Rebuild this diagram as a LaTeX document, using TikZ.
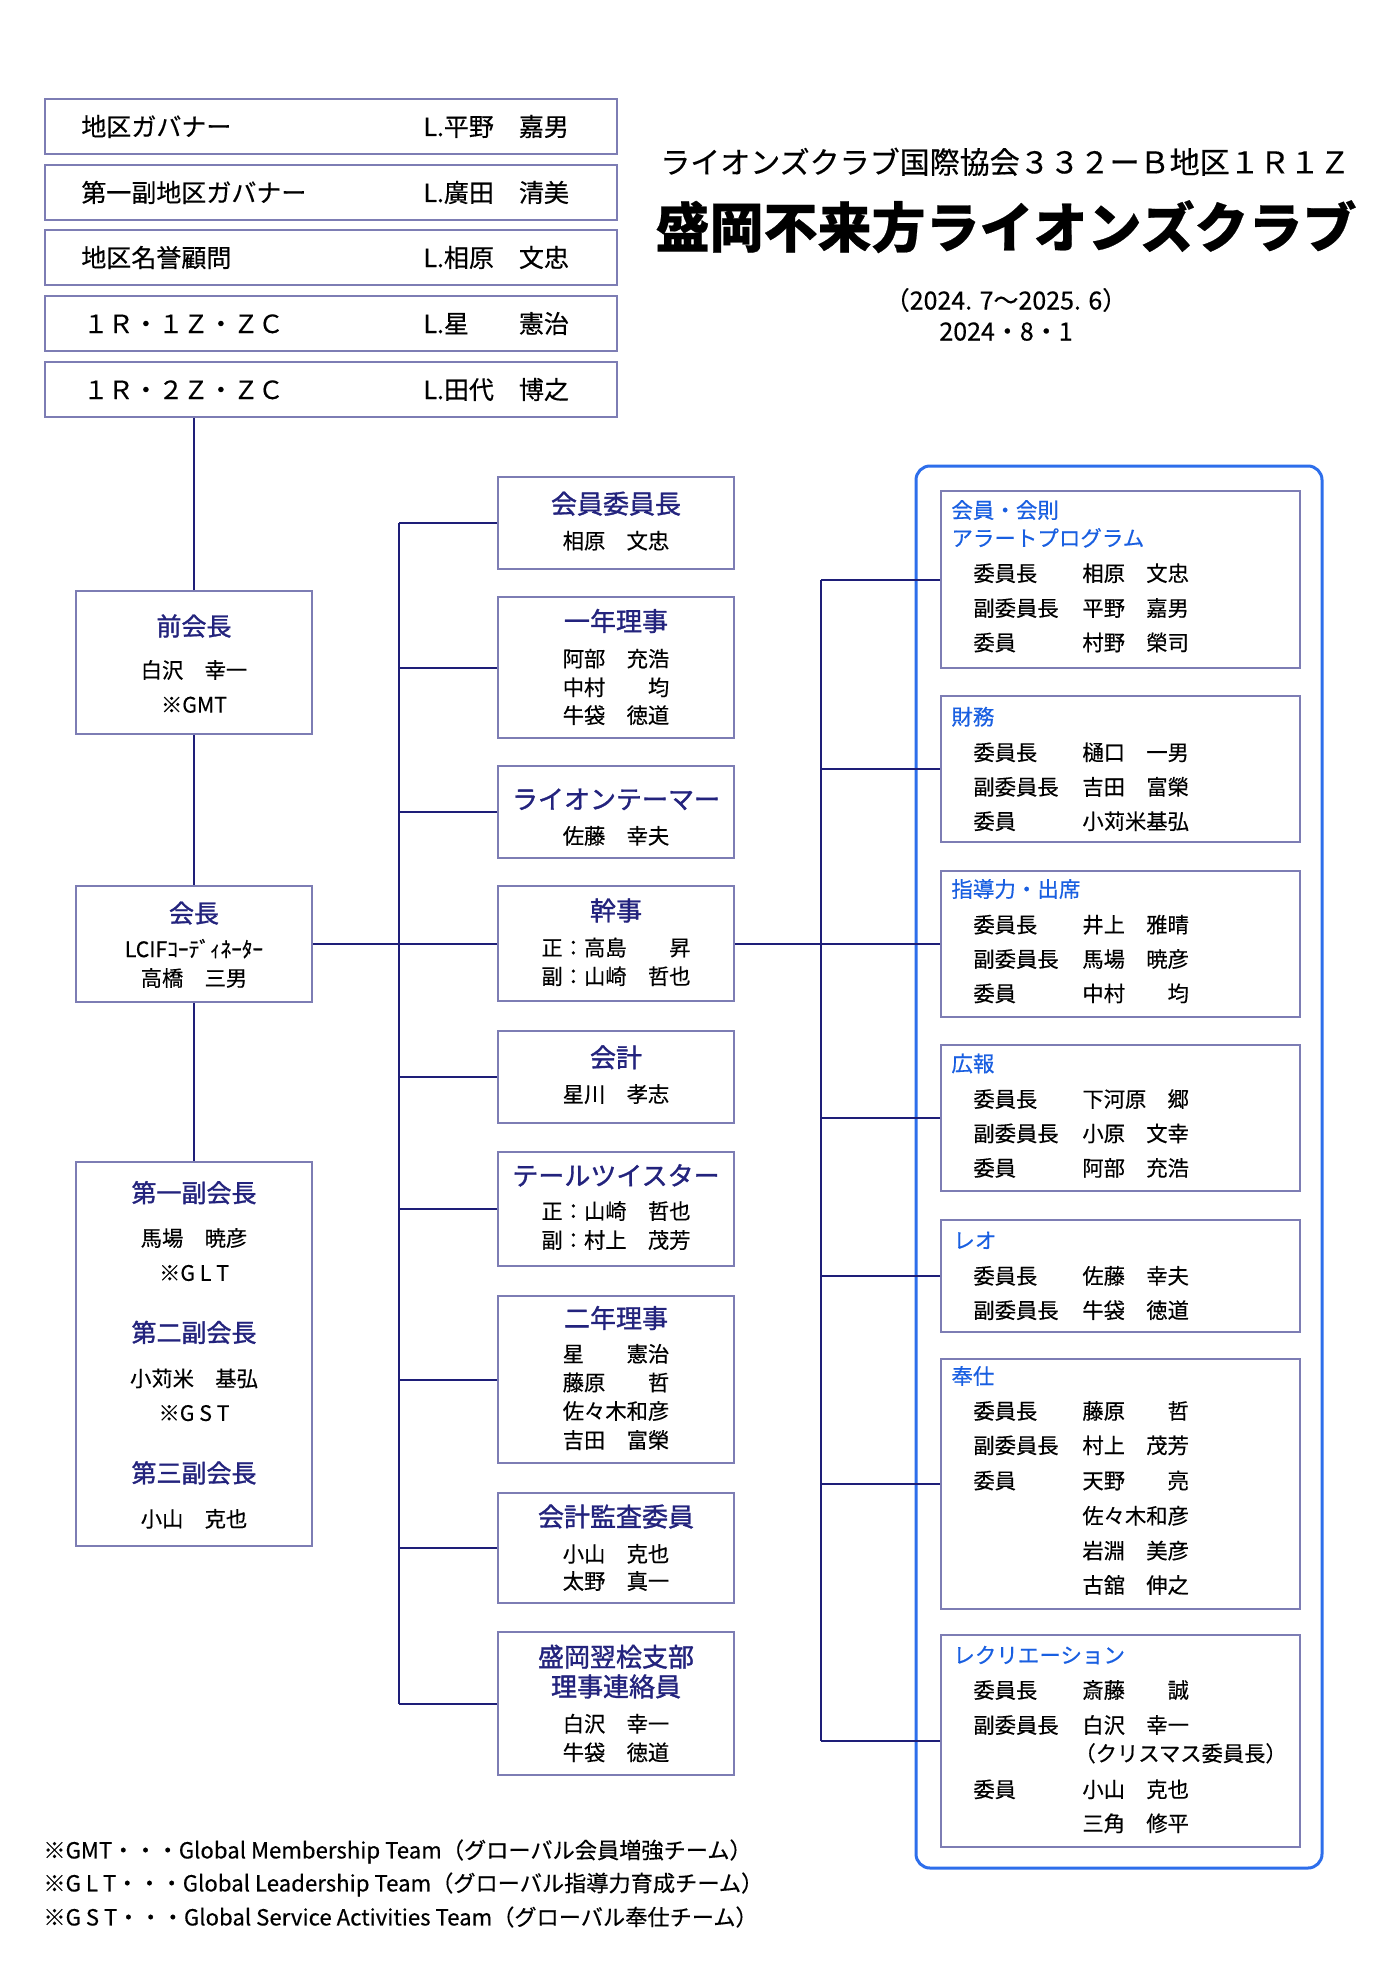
\documentclass[tikz,border=0pt]{standalone}
\usepackage{fontspec}
\setmainfont{Noto Sans CJK JP}[FakeBold=0.4]
\newfontfamily\hdfont{Noto Sans CJK JP}[FakeBold=1.3]
\definecolor{boxline}{RGB}{125,125,180}
\definecolor{conn}{RGB}{30,30,120}
\definecolor{navytxt}{RGB}{35,35,125}
\definecolor{bluetxt}{RGB}{25,95,225}
\definecolor{outerblue}{RGB}{45,110,235}
\begin{document}
\begin{tikzpicture}[x=0.5pt,y=-0.5pt,
  tx/.style={inner sep=0pt, font=\fontsize{#1pt}{#1pt}\selectfont, text height={0.88*#1pt}, text depth={0.12*#1pt}},
  ebox/.style={draw=boxline, line width=1pt, inner sep=0pt, fill=white},
  connline/.style={draw=conn, line width=1pt},
  lhd/.style={tx=12.5, text=navytxt, execute at begin node=\hdfont},
  mhd/.style={tx=13, text=navytxt, execute at begin node=\hdfont},
  nm/.style={tx=10.65},
  rhd/.style={tx=10.75, text=bluetxt, anchor=west},
  rtx/.style={tx=10.65, anchor=west},
  toptx/.style={tx=12.5, anchor=west}]
\useasboundingbox (0,0) rectangle (1400,1969);
\fill[white] (0,0) rectangle (1400,1969);

% outer rounded frame
\node[draw=outerblue, line width=1.5pt, rounded corners=7pt, inner sep=0pt,
  minimum width=203pt, minimum height=701pt] (outer) at (1119,1167) {};

% top boxes
\node[ebox, minimum width=286pt, minimum height=27.5pt] (g1) at (331,126.5) {};
\node[ebox, minimum width=286pt, minimum height=27.5pt] (g2) at (331,192.5) {};
\node[ebox, minimum width=286pt, minimum height=27.5pt] (g3) at (331,257.5) {};
\node[ebox, minimum width=286pt, minimum height=27.5pt] (g4) at (331,323.5) {};
\node[ebox, minimum width=286pt, minimum height=27.5pt] (g5) at (331,389.5) {};
\node[toptx] (g1l) at (81,126.5) {地区ガバナー};
\node[toptx] (g1r) at (423,126.5) {L.平野　嘉男};
\node[toptx] (g2l) at (81,192.5) {第一副地区ガバナー};
\node[toptx] (g2r) at (423,192.5) {L.廣田　清美};
\node[toptx] (g3l) at (81,257.5) {地区名誉顧問};
\node[toptx] (g3r) at (423,257.5) {L.相原　文忠};
\node[toptx] (g4l) at (83,323.5) {１Ｒ・１Ｚ・ＺＣ};
\node[toptx] (g4r) at (423,323.5) {L.星　　憲治};
\node[toptx] (g5l) at (83,389.5) {１Ｒ・２Ｚ・ＺＣ};
\node[toptx] (g5r) at (423,389.5) {L.田代　博之};

% title
\node[tx=15] (t1) at (1005,162) {ライオンズクラブ国際協会３３２ーＢ地区１Ｒ１Ｚ};
\node[tx=27, execute at begin node=\bfseries] (t2) at (1006,227) {盛岡不来方ライオンズクラブ};
\node[tx=12.5] (t3) at (1006,300) {（2024. 7～2025. 6）};
\node[tx=12.5] (t4) at (1006,331) {2024・8・1};

% left column
\node[ebox, minimum width=118pt, minimum height=71.5pt] (pp) at (194,662.5) {};
\node[ebox, minimum width=118pt, minimum height=58pt] (pr) at (194,944) {};
\node[ebox, minimum width=118pt, minimum height=192pt] (vp) at (194,1354) {};
\node[lhd] (pp1) at (194,626) {前会長};
\node[nm] (pp2) at (194,670) {白沢　幸一};
\node[nm] (pp3) at (194,704.5) {※GMT};
\node[lhd] (pr1) at (194,913) {会長};
\node[nm] (pr2) at (194,949) {LCIFｺｰﾃﾞｨﾈｰﾀｰ};
\node[nm] (pr3) at (194,978) {高橋　三男};
\node[lhd] (vp1) at (194,1192.7) {第一副会長};
\node[nm] (vp2) at (194,1238) {馬場　暁彦};
\node[nm] (vp3) at (194,1272.7) {※G L T};
\node[lhd] (vp4) at (194,1332.4) {第二副会長};
\node[nm] (vp5) at (194,1378.4) {小苅米　基弘};
\node[nm] (vp6) at (194,1412.8) {※G S T};
\node[lhd] (vp7) at (194,1472.9) {第三副会長};
\node[nm] (vp8) at (194,1518.8) {小山　克也};

% middle column
\node[ebox, minimum width=118pt, minimum height=46pt] (m1) at (616,523) {};
\node[ebox, minimum width=118pt, minimum height=70.5pt] (m2) at (616,667.5) {};
\node[ebox, minimum width=118pt, minimum height=46pt] (m3) at (616,812) {};
\node[ebox, minimum width=118pt, minimum height=57.5pt] (m4) at (616,943.5) {};
\node[ebox, minimum width=118pt, minimum height=46pt] (m5) at (616,1077) {};
\node[ebox, minimum width=118pt, minimum height=57pt] (m6) at (616,1209) {};
\node[ebox, minimum width=118pt, minimum height=83.5pt] (m7) at (616,1379.5) {};
\node[ebox, minimum width=118pt, minimum height=55pt] (m8) at (616,1548) {};
\node[ebox, minimum width=118pt, minimum height=71.5pt] (m9) at (616,1703.5) {};

\node[mhd] (m1a) at (616,503.6) {会員委員長};
\node[nm] (m1b) at (616,540.7) {相原　文忠};
\node[mhd] (m2a) at (616,621) {一年理事};
\node[nm] (m2b) at (616,658.6) {阿部　充浩};
\node[nm] (m2c) at (616,687.3) {中村　　均};
\node[nm] (m2d) at (616,715.2) {牛袋　徳道};
\node[mhd] (m3a) at (616,799) {ライオンテーマー};
\node[nm] (m3b) at (616,835.8) {佐藤　幸夫};
\node[mhd] (m4a) at (616,910.4) {幹事};
\node[nm] (m4b) at (616,947.5) {正：高島　　昇};
\node[nm] (m4c) at (616,976.2) {副：山崎　哲也};
\node[mhd] (m5a) at (616,1057.3) {会計};
\node[nm] (m5b) at (616,1094) {星川　孝志};
\node[mhd] (m6a) at (616,1175.4) {テールツイスター};
\node[nm] (m6b) at (616,1211) {正：山崎　哲也};
\node[nm] (m6c) at (616,1240) {副：村上　茂芳};
\node[mhd] (m7a) at (616,1318) {二年理事};
\node[nm] (m7b) at (616,1353.8) {星　　憲治};
\node[nm] (m7c) at (616,1382.5) {藤原　　哲};
\node[nm] (m7d) at (616,1411) {佐々木和彦};
\node[nm] (m7e) at (616,1440) {吉田　富榮};
\node[mhd] (m8a) at (616,1516.5) {会計監査委員};
\node[nm] (m8b) at (616,1553.8) {小山　克也};
\node[nm] (m8c) at (616,1581) {太野　真一};
\node[mhd] (m9a) at (616,1656.7) {盛岡翌桧支部};
\node[mhd] (m9b) at (616,1686.4) {理事連絡員};
\node[nm] (m9c) at (616,1723.7) {白沢　幸一};
\node[nm] (m9d) at (616,1752.4) {牛袋　徳道};

% right column boxes
\node[ebox, minimum width=179.5pt, minimum height=88.5pt] (r1) at (1120.5,579.5) {};
\node[ebox, minimum width=179.5pt, minimum height=73pt] (r2) at (1120.5,769) {};
\node[ebox, minimum width=179.5pt, minimum height=73pt] (r3) at (1120.5,943.5) {};
\node[ebox, minimum width=179.5pt, minimum height=73pt] (r4) at (1120.5,1118) {};
\node[ebox, minimum width=179.5pt, minimum height=56pt] (r5) at (1120.5,1276) {};
\node[ebox, minimum width=179.5pt, minimum height=125.25pt] (r6) at (1120.5,1483.75) {};
\node[ebox, minimum width=179.5pt, minimum height=106pt] (r7) at (1120.5,1741) {};

\node[rhd] (r1h) at (951,510) {会員・会則};
\node[rhd] (r1i) at (951,538) {アラートプログラム};
\node[rtx] (r1a) at (973,573.2) {委員長};   \node[rtx] (r1b) at (1082,573.2) {相原　文忠};
\node[rtx] (r1c) at (973,608) {副委員長};   \node[rtx] (r1d) at (1082,608) {平野　嘉男};
\node[rtx] (r1e) at (973,642.5) {委員};     \node[rtx] (r1f) at (1082,642.5) {村野　榮司};

\node[rhd] (r2h) at (951,716.7) {財務};
\node[rtx] (r2a) at (973,752.3) {委員長};   \node[rtx] (r2b) at (1082,752.3) {樋口　一男};
\node[rtx] (r2c) at (973,786.8) {副委員長}; \node[rtx] (r2d) at (1082,786.8) {吉田　富榮};
\node[rtx] (r2e) at (973,821.2) {委員};     \node[rtx] (r2f) at (1082,821.2) {小苅米基弘};

\node[rhd] (r3h) at (951,889) {指導力・出席};
\node[rtx] (r3a) at (973,924.6) {委員長};   \node[rtx] (r3b) at (1082,924.6) {井上　雅晴};
\node[rtx] (r3c) at (973,959) {副委員長};   \node[rtx] (r3d) at (1082,959) {馬場　暁彦};
\node[rtx] (r3e) at (973,993.4) {委員};     \node[rtx] (r3f) at (1082,993.4) {中村　　均};

\node[rhd] (r4h) at (951,1063.4) {広報};
\node[rtx] (r4a) at (973,1099) {委員長};    \node[rtx] (r4b) at (1082,1099) {下河原　郷};
\node[rtx] (r4c) at (973,1133.4) {副委員長};\node[rtx] (r4d) at (1082,1133.4) {小原　文幸};
\node[rtx] (r4e) at (973,1167.9) {委員};    \node[rtx] (r4f) at (1082,1167.9) {阿部　充浩};

\node[rhd] (r5h) at (953,1240.2) {レオ};
\node[rtx] (r5a) at (973,1275.8) {委員長};  \node[rtx] (r5b) at (1082,1275.8) {佐藤　幸夫};
\node[rtx] (r5c) at (973,1310.2) {副委員長};\node[rtx] (r5d) at (1082,1310.2) {牛袋　徳道};

\node[rhd] (r6h) at (951,1376) {奉仕};
\node[rtx] (r6a) at (973,1410.9) {委員長};  \node[rtx] (r6b) at (1082,1410.9) {藤原　　哲};
\node[rtx] (r6c) at (973,1445.3) {副委員長};\node[rtx] (r6d) at (1082,1445.3) {村上　茂芳};
\node[rtx] (r6e) at (973,1480.5) {委員};    \node[rtx] (r6f) at (1082,1480.5) {天野　　亮};
\node[rtx] (r6g) at (1082,1515.7) {佐々木和彦};
\node[rtx] (r6i) at (1082,1550.6) {岩淵　美彦};
\node[rtx] (r6j) at (1082,1585) {古舘　伸之};

\node[rhd] (r7h) at (953,1655) {レクリエーション};
\node[rtx] (r7a) at (973,1690) {委員長};    \node[rtx] (r7b) at (1082,1690) {斎藤　　誠};
\node[rtx] (r7c) at (973,1725) {副委員長};  \node[rtx] (r7d) at (1082,1725) {白沢　幸一};
\node[rtx] (r7e) at (1074,1753.3) {（クリスマス委員長）};
\node[rtx] (r7f) at (973,1789.3) {委員};    \node[rtx] (r7g) at (1082,1789.3) {小山　克也};
\node[rtx] (r7i) at (1082,1823.3) {三角　修平};

% connectors
\coordinate (lt) at (399,0);
\coordinate (rt) at (821,0);
\draw[connline] (pp.north) -- (pp.north |- g5.south);
\draw[connline] (pp.south) -- (pr.north);
\draw[connline] (pr.south) -- (vp.north);
\draw[connline] (pr.east) -- (pr.east -| lt);
\draw[connline] (m1.west -| lt) -- (m9.west -| lt);
\foreach \m in {m1,m2,m3,m4,m5,m6,m7,m8,m9}
  \draw[connline] (\m.west) -- (\m.west -| lt);
\draw[connline] (r1.west -| rt) -- (r7.west -| rt);
\foreach \r in {r1,r2,r3,r4,r5,r6,r7}
  \draw[connline] (\r.west) -- (\r.west -| rt);
\draw[connline] (m4.east) -- (r3.west);

% footnotes
\node[tx=11.1, anchor=west] (f1) at (43,1850) {※GMT・・・Global Membership Team（グローバル会員増強チーム）};
\node[tx=11.1, anchor=west] (f2) at (43,1883) {※G L T・・・Global Leadership Team（グローバル指導力育成チーム）};
\node[tx=11.1, anchor=west] (f3) at (43,1917) {※G S T・・・Global Service Activities Team（グローバル奉仕チーム）};
\end{tikzpicture}
\end{document}
